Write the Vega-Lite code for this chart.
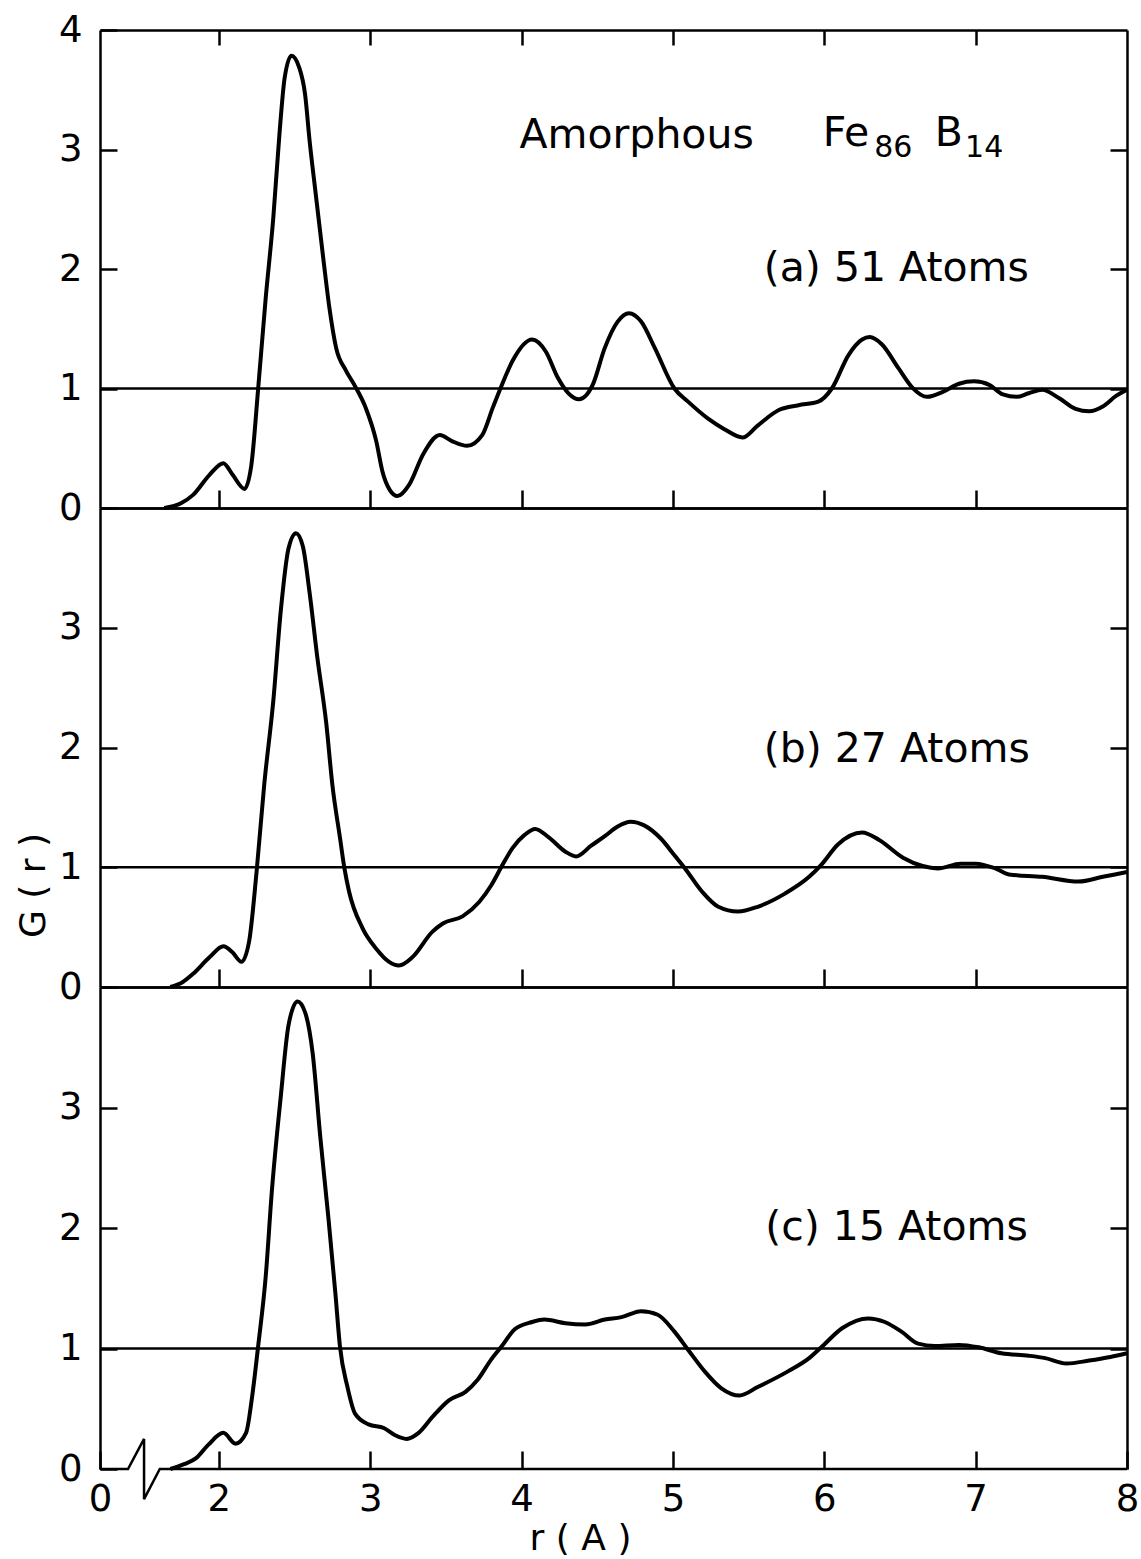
{
  "$schema": "https://vega.github.io/schema/vega-lite/v6.json",
  "background": "white",
  "padding": {"left": 15, "top": 11, "right": 5, "bottom": 5},
  "spacing": 0,
  "bounds": "flush",
  "config": {
    "view": {"stroke": null},
    "font": "DejaVu Sans",
    "axis": {
      "grid": false,
      "domainColor": "black", "domainWidth": 2.5,
      "tickColor": "black", "tickWidth": 2.5,
      "labelFont": "DejaVu Sans", "labelFontSize": 37, "labelColor": "black",
      "titleFont": "DejaVu Sans", "titleFontSize": 36, "titleFontWeight": "normal", "titleColor": "black",
      "labelOverlap": false, "labelFlush": false
    }
  },
  "datasets": {
    "curves": [
      {"p":"a","r":1.64,"G":0},{"p":"a","r":1.75,"G":0.04},{"p":"a","r":1.83,"G":0.11},{"p":"a","r":1.94,"G":0.28},{"p":"a","r":2.03,"G":0.375},{"p":"a","r":2.09,"G":0.28},{"p":"a","r":2.17,"G":0.16},{"p":"a","r":2.215,"G":0.36},{"p":"a","r":2.26,"G":1.0},{"p":"a","r":2.31,"G":1.76},{"p":"a","r":2.36,"G":2.43},{"p":"a","r":2.40,"G":3.12},{"p":"a","r":2.435,"G":3.6},{"p":"a","r":2.48,"G":3.785},{"p":"a","r":2.53,"G":3.69},{"p":"a","r":2.57,"G":3.46},{"p":"a","r":2.60,"G":3.07},{"p":"a","r":2.64,"G":2.63},{"p":"a","r":2.69,"G":2.09},{"p":"a","r":2.73,"G":1.68},{"p":"a","r":2.775,"G":1.34},{"p":"a","r":2.84,"G":1.15},{"p":"a","r":2.90,"G":1.02},{"p":"a","r":2.97,"G":0.84},{"p":"a","r":3.04,"G":0.56},{"p":"a","r":3.08,"G":0.31},{"p":"a","r":3.13,"G":0.15},{"p":"a","r":3.18,"G":0.10},{"p":"a","r":3.26,"G":0.20},{"p":"a","r":3.35,"G":0.45},{"p":"a","r":3.46,"G":0.61},{"p":"a","r":3.54,"G":0.56},{"p":"a","r":3.64,"G":0.52},{"p":"a","r":3.74,"G":0.61},{"p":"a","r":3.81,"G":0.84},{"p":"a","r":3.87,"G":1.03},{"p":"a","r":3.94,"G":1.23},{"p":"a","r":4.07,"G":1.41},{"p":"a","r":4.16,"G":1.31},{"p":"a","r":4.24,"G":1.09},{"p":"a","r":4.31,"G":0.96},{"p":"a","r":4.38,"G":0.91},{"p":"a","r":4.47,"G":1.03},{"p":"a","r":4.55,"G":1.34},{"p":"a","r":4.635,"G":1.56},{"p":"a","r":4.71,"G":1.63},{"p":"a","r":4.79,"G":1.56},{"p":"a","r":4.88,"G":1.34},{"p":"a","r":5.01,"G":1.0},{"p":"a","r":5.10,"G":0.89},{"p":"a","r":5.23,"G":0.75},{"p":"a","r":5.34,"G":0.66},{"p":"a","r":5.46,"G":0.59},{"p":"a","r":5.56,"G":0.69},{"p":"a","r":5.70,"G":0.82},{"p":"a","r":5.83,"G":0.86},{"p":"a","r":5.96,"G":0.89},{"p":"a","r":6.05,"G":1.0},{"p":"a","r":6.16,"G":1.28},{"p":"a","r":6.25,"G":1.41},{"p":"a","r":6.30,"G":1.43},{"p":"a","r":6.38,"G":1.37},{"p":"a","r":6.49,"G":1.17},{"p":"a","r":6.58,"G":1.01},{"p":"a","r":6.68,"G":0.93},{"p":"a","r":6.78,"G":0.97},{"p":"a","r":6.89,"G":1.04},{"p":"a","r":6.99,"G":1.06},{"p":"a","r":7.09,"G":1.03},{"p":"a","r":7.18,"G":0.95},{"p":"a","r":7.27,"G":0.93},{"p":"a","r":7.35,"G":0.96},{"p":"a","r":7.44,"G":0.99},{"p":"a","r":7.55,"G":0.92},{"p":"a","r":7.66,"G":0.83},{"p":"a","r":7.75,"G":0.81},{"p":"a","r":7.84,"G":0.85},{"p":"a","r":7.93,"G":0.94},{"p":"a","r":8.0,"G":0.99},
      {"p":"b","r":1.68,"G":0},{"p":"b","r":1.76,"G":0.04},{"p":"b","r":1.83,"G":0.11},{"p":"b","r":1.94,"G":0.25},{"p":"b","r":2.03,"G":0.34},{"p":"b","r":2.09,"G":0.29},{"p":"b","r":2.15,"G":0.21},{"p":"b","r":2.20,"G":0.38},{"p":"b","r":2.25,"G":0.97},{"p":"b","r":2.30,"G":1.69},{"p":"b","r":2.36,"G":2.39},{"p":"b","r":2.41,"G":3.15},{"p":"b","r":2.46,"G":3.66},{"p":"b","r":2.51,"G":3.79},{"p":"b","r":2.555,"G":3.68},{"p":"b","r":2.60,"G":3.29},{"p":"b","r":2.65,"G":2.76},{"p":"b","r":2.71,"G":2.20},{"p":"b","r":2.75,"G":1.69},{"p":"b","r":2.80,"G":1.25},{"p":"b","r":2.83,"G":0.99},{"p":"b","r":2.86,"G":0.80},{"p":"b","r":2.95,"G":0.49},{"p":"b","r":3.04,"G":0.32},{"p":"b","r":3.125,"G":0.21},{"p":"b","r":3.19,"G":0.18},{"p":"b","r":3.28,"G":0.25},{"p":"b","r":3.41,"G":0.46},{"p":"b","r":3.48,"G":0.53},{"p":"b","r":3.61,"G":0.59},{"p":"b","r":3.72,"G":0.71},{"p":"b","r":3.80,"G":0.85},{"p":"b","r":3.87,"G":1.01},{"p":"b","r":3.94,"G":1.16},{"p":"b","r":4.02,"G":1.27},{"p":"b","r":4.09,"G":1.32},{"p":"b","r":4.18,"G":1.25},{"p":"b","r":4.29,"G":1.13},{"p":"b","r":4.36,"G":1.09},{"p":"b","r":4.46,"G":1.18},{"p":"b","r":4.55,"G":1.26},{"p":"b","r":4.635,"G":1.34},{"p":"b","r":4.72,"G":1.38},{"p":"b","r":4.81,"G":1.35},{"p":"b","r":4.92,"G":1.24},{"p":"b","r":5.01,"G":1.10},{"p":"b","r":5.08,"G":0.99},{"p":"b","r":5.19,"G":0.80},{"p":"b","r":5.30,"G":0.67},{"p":"b","r":5.43,"G":0.63},{"p":"b","r":5.56,"G":0.67},{"p":"b","r":5.74,"G":0.78},{"p":"b","r":5.90,"G":0.92},{"p":"b","r":5.98,"G":1.02},{"p":"b","r":6.09,"G":1.19},{"p":"b","r":6.25,"G":1.29},{"p":"b","r":6.36,"G":1.23},{"p":"b","r":6.52,"G":1.08},{"p":"b","r":6.65,"G":1.01},{"p":"b","r":6.75,"G":0.99},{"p":"b","r":6.90,"G":1.03},{"p":"b","r":7.0,"G":1.03},{"p":"b","r":7.13,"G":0.99},{"p":"b","r":7.22,"G":0.94},{"p":"b","r":7.44,"G":0.92},{"p":"b","r":7.68,"G":0.88},{"p":"b","r":7.84,"G":0.92},{"p":"b","r":8.0,"G":0.96},
      {"p":"c","r":1.68,"G":0},{"p":"c","r":1.77,"G":0.04},{"p":"c","r":1.85,"G":0.09},{"p":"c","r":1.93,"G":0.20},{"p":"c","r":2.03,"G":0.30},{"p":"c","r":2.11,"G":0.21},{"p":"c","r":2.18,"G":0.30},{"p":"c","r":2.22,"G":0.60},{"p":"c","r":2.26,"G":1.02},{"p":"c","r":2.31,"G":1.60},{"p":"c","r":2.35,"G":2.3},{"p":"c","r":2.41,"G":3.1},{"p":"c","r":2.46,"G":3.68},{"p":"c","r":2.52,"G":3.88},{"p":"c","r":2.57,"G":3.79},{"p":"c","r":2.62,"G":3.45},{"p":"c","r":2.67,"G":2.76},{"p":"c","r":2.725,"G":2.07},{"p":"c","r":2.77,"G":1.46},{"p":"c","r":2.80,"G":1.02},{"p":"c","r":2.85,"G":0.68},{"p":"c","r":2.90,"G":0.46},{"p":"c","r":2.99,"G":0.37},{"p":"c","r":3.09,"G":0.34},{"p":"c","r":3.165,"G":0.28},{"p":"c","r":3.24,"G":0.25},{"p":"c","r":3.32,"G":0.30},{"p":"c","r":3.41,"G":0.43},{"p":"c","r":3.52,"G":0.57},{"p":"c","r":3.63,"G":0.64},{"p":"c","r":3.71,"G":0.74},{"p":"c","r":3.80,"G":0.91},{"p":"c","r":3.87,"G":1.02},{"p":"c","r":3.955,"G":1.16},{"p":"c","r":4.07,"G":1.22},{"p":"c","r":4.15,"G":1.24},{"p":"c","r":4.29,"G":1.21},{"p":"c","r":4.42,"G":1.20},{"p":"c","r":4.55,"G":1.24},{"p":"c","r":4.66,"G":1.26},{"p":"c","r":4.79,"G":1.31},{"p":"c","r":4.90,"G":1.28},{"p":"c","r":5.01,"G":1.14},{"p":"c","r":5.10,"G":0.99},{"p":"c","r":5.21,"G":0.81},{"p":"c","r":5.32,"G":0.67},{"p":"c","r":5.44,"G":0.61},{"p":"c","r":5.56,"G":0.68},{"p":"c","r":5.76,"G":0.81},{"p":"c","r":5.90,"G":0.92},{"p":"c","r":5.98,"G":1.01},{"p":"c","r":6.12,"G":1.17},{"p":"c","r":6.29,"G":1.25},{"p":"c","r":6.40,"G":1.22},{"p":"c","r":6.51,"G":1.14},{"p":"c","r":6.62,"G":1.04},{"p":"c","r":6.73,"G":1.02},{"p":"c","r":6.89,"G":1.03},{"p":"c","r":7.02,"G":1.01},{"p":"c","r":7.17,"G":0.96},{"p":"c","r":7.35,"G":0.94},{"p":"c","r":7.46,"G":0.92},{"p":"c","r":7.60,"G":0.875},{"p":"c","r":7.75,"G":0.90},{"p":"c","r":7.89,"G":0.93},{"p":"c","r":8.0,"G":0.96}
    ],
    "labels": [
      {"p":"a","kind":"main","r":3.986,"G":3.015,"text":"Amorphous"},
      {"p":"a","kind":"main","r":5.99,"G":3.03,"text":"Fe"},
      {"p":"a","kind":"sub","r":6.33,"G":2.94,"text":"86"},
      {"p":"a","kind":"main","r":6.73,"G":3.03,"text":"B"},
      {"p":"a","kind":"sub","r":6.93,"G":2.94,"text":"14"},
      {"p":"a","kind":"main","r":5.60,"G":1.90,"text":"(a) 51 Atoms"},
      {"p":"b","kind":"main","r":5.60,"G":1.88,"text":"(b) 27 Atoms"},
      {"p":"c","kind":"main","r":5.61,"G":1.90,"text":"(c) 15 Atoms"}
    ],
    "axisbreak": [
      {"seq":1,"r":1.215,"G":0},{"seq":2,"r":1.40,"G":0},{"seq":3,"r":1.506,"G":0.25},{"seq":4,"r":1.506,"G":-0.25},{"seq":5,"r":1.61,"G":0},{"seq":6,"r":8.0,"G":0}
    ]
  },
  "vconcat": [
    {
      "width": 1027, "height": 478,
      "resolve": {"axis": {"x": "independent", "y": "independent"}},
      "layer": [
        {
          "data": {"name": "curves"},
          "transform": [{"filter": "datum.p === 'a'"}],
          "mark": {"type": "line", "color": "black", "strokeWidth": 4, "interpolate": "monotone"},
          "encoding": {
            "x": {"field": "r", "type": "quantitative", "scale": {"domain": [1.215, 8], "nice": false, "zero": false},
                  "axis": {"orient": "bottom", "values": [2,3,4,5,6,7], "tickSize": -18, "labels": false, "title": null}},
            "y": {"field": "G", "type": "quantitative", "scale": {"domain": [0, 4], "nice": false},
                  "axis": {"orient": "left", "values": [0,1,2,3,4], "tickSize": -17, "labelPadding": 35, "title": null}}
          }
        },
        {
          "data": {"values": [{}]},
          "mark": {"type": "rule", "color": "black", "strokeWidth": 2.5},
          "encoding": {"y": {"datum": 1, "type": "quantitative", "axis": null}}
        },
        {
          "data": {"name": "labels"},
          "transform": [{"filter": "datum.p === 'a' && datum.kind === 'main'"}],
          "mark": {"type": "text", "font": "DejaVu Sans", "fontSize": 41, "align": "left", "baseline": "alphabetic", "color": "black"},
          "encoding": {
            "x": {"field": "r", "type": "quantitative", "axis": {"orient": "top", "values": [2,3,4,5,6,7], "tickSize": -15, "labels": false, "title": null}},
            "y": {"field": "G", "type": "quantitative", "axis": {"orient": "right", "values": [1,2,3], "tickSize": -17, "labels": false, "title": null}},
            "text": {"field": "text"}
          }
        },
        {
          "data": {"name": "labels"},
          "transform": [{"filter": "datum.p === 'a' && datum.kind === 'sub'"}],
          "mark": {"type": "text", "font": "DejaVu Sans", "fontSize": 30, "align": "left", "baseline": "alphabetic", "color": "black"},
          "encoding": {
            "x": {"field": "r", "type": "quantitative", "axis": null},
            "y": {"field": "G", "type": "quantitative", "axis": null},
            "text": {"field": "text"}
          }
        }
      ]
    },
    {
      "width": 1027, "height": 479,
      "resolve": {"axis": {"x": "independent", "y": "independent"}},
      "layer": [
        {
          "data": {"name": "curves"},
          "transform": [{"filter": "datum.p === 'b'"}],
          "mark": {"type": "line", "color": "black", "strokeWidth": 4, "interpolate": "monotone"},
          "encoding": {
            "x": {"field": "r", "type": "quantitative", "scale": {"domain": [1.215, 8], "nice": false, "zero": false},
                  "axis": {"orient": "bottom", "values": [2,3,4,5,6,7], "tickSize": -18, "labels": false, "title": null}},
            "y": {"field": "G", "type": "quantitative", "scale": {"domain": [0, 4], "nice": false},
                  "axis": {"orient": "left", "values": [0,1,2,3], "tickSize": -17, "labelPadding": 35, "title": "G ( r )", "titleX": -48, "titleY": 377}}
          }
        },
        {
          "data": {"values": [{}]},
          "mark": {"type": "rule", "color": "black", "strokeWidth": 2.5},
          "encoding": {"y": {"datum": 1, "type": "quantitative", "axis": null}}
        },
        {
          "data": {"name": "labels"},
          "transform": [{"filter": "datum.p === 'b'"}],
          "mark": {"type": "text", "font": "DejaVu Sans", "fontSize": 41, "align": "left", "baseline": "alphabetic", "color": "black"},
          "encoding": {
            "x": {"field": "r", "type": "quantitative", "axis": {"orient": "top", "ticks": false, "labels": false, "title": null}},
            "y": {"field": "G", "type": "quantitative", "axis": {"orient": "right", "values": [1,2,3], "tickSize": -17, "labels": false, "title": null}},
            "text": {"field": "text"}
          }
        }
      ]
    },
    {
      "width": 1027, "height": 482,
      "resolve": {"axis": {"x": "independent", "y": "independent"}},
      "layer": [
        {
          "data": {"name": "curves"},
          "transform": [{"filter": "datum.p === 'c'"}],
          "mark": {"type": "line", "color": "black", "strokeWidth": 4, "interpolate": "monotone"},
          "encoding": {
            "x": {"field": "r", "type": "quantitative", "scale": {"domain": [1.215, 8], "nice": false, "zero": false},
                  "axis": {"orient": "bottom", "values": [1.215,2,3,4,5,6,7,8], "tickSize": -18, "labelPadding": 30, "domain": false,
                           "labelExpr": "datum.value < 1.5 ? '0' : datum.label", "title": "r ( A )", "titleX": 480}},
            "y": {"field": "G", "type": "quantitative", "scale": {"domain": [0, 4], "nice": false},
                  "axis": {"orient": "left", "values": [0,1,2,3], "tickSize": -17, "labelPadding": 35, "title": null}}
          }
        },
        {
          "data": {"values": [{}]},
          "mark": {"type": "rule", "color": "black", "strokeWidth": 2.5},
          "encoding": {"y": {"datum": 1, "type": "quantitative", "axis": null}}
        },
        {
          "data": {"name": "labels"},
          "transform": [{"filter": "datum.p === 'c'"}],
          "mark": {"type": "text", "font": "DejaVu Sans", "fontSize": 41, "align": "left", "baseline": "alphabetic", "color": "black"},
          "encoding": {
            "x": {"field": "r", "type": "quantitative", "axis": {"orient": "top", "ticks": false, "labels": false, "title": null}},
            "y": {"field": "G", "type": "quantitative", "axis": {"orient": "right", "values": [1,2,3], "tickSize": -17, "labels": false, "title": null}},
            "text": {"field": "text"}
          }
        },
        {
          "data": {"name": "axisbreak"},
          "mark": {"type": "line", "color": "black", "strokeWidth": 2.5, "interpolate": "linear", "clip": false},
          "encoding": {
            "x": {"field": "r", "type": "quantitative", "axis": null},
            "y": {"field": "G", "type": "quantitative", "axis": null},
            "order": {"field": "seq", "type": "quantitative"}
          }
        }
      ]
    }
  ]
}
